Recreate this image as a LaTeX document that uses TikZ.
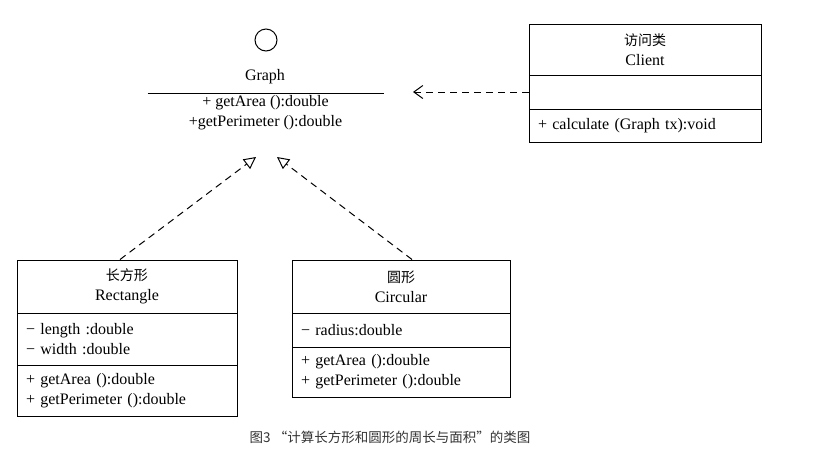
\documentclass[tikz,border=0pt]{standalone}
\usepackage{fontspec}
\setmainfont{Liberation Serif}
\newfontfamily\cjk{Noto Sans CJK SC}
\usetikzlibrary{arrows.meta}
\begin{document}
\begin{tikzpicture}[x=1pt, y=-1pt, line width=1pt, box/.style={rectangle, draw=black, line width=1pt, text width=#1, inner xsep=9pt, inner ysep=0pt, align=left, node font=\fontsize{16}{20}\selectfont}, box/.default=200pt, title/.style={box=#1, align=center}, title/.default=200pt, dep/.style={dashed, dash pattern=on 7pt off 5pt, -{Straight Barb[length=9pt, width=13pt]}}, real/.style={dashed, dash pattern=on 7pt off 5pt, -{Triangle[open, length=12pt, width=12pt]}}]

\useasboundingbox (0,0) rectangle (838,456);

% interface
\node [circle, draw, minimum size=22pt, inner sep=0pt] (GC) at (266,40){};
\node [node font=\fontsize{16}{20}\selectfont] (GN) at (265,77){Graph};
\node [node font=\fontsize{16}{20}\selectfont, minimum width=235pt, inner sep=2pt, align=center] (GM) at (265.5,113){+ getArea ():double\\+getPerimeter ():double};
\draw (GM.north west) -- (GM.north east);

% client
\node [title=214pt, minimum height=51pt] (CN) at (645,49.5){{\cjk\fontsize{14}{20}\selectfont 访问类}\\Client};
\node [box=214pt, minimum height=34pt] (CA) at (645,92){};
\node [box=214pt, minimum height=33pt] (CM) at (645,125.5){+ calculate (Graph tx):void};

% rectangle
\node [title=202pt, minimum height=53pt] (RN) at (127,286.5){{\cjk\fontsize{14}{20}\selectfont 长方形}\\Rectangle};
\node [box=202pt, minimum height=52pt] (RA) at (127,339){− length :double\\− width :double};
\node [box=202pt, minimum height=51pt] (RM) at (127,390.5){+ getArea ():double\\+ getPerimeter ():double};

% circular
\node [title=200pt, minimum height=53pt] (KN) at (401,286.5){{\cjk\fontsize{14}{20}\selectfont 圆形}\\Circular};
\node [box=200pt, minimum height=34pt] (KA) at (401,330){− radius:double};
\node [box=200pt, minimum height=50pt] (KM) at (401,372){+ getArea ():double\\+ getPerimeter ():double};

\coordinate (USE) at (413,92);
\coordinate (RL) at (256,157);
\coordinate (KL) at (277,157);

\draw [dep] (CA.west) -- (USE);
\draw [real] ([xshift=-7pt]RN.north) -- (RL);
\draw [real] ([xshift=11pt]KN.north) -- (KL);

\node [node font=\fontsize{13.5}{15}\selectfont\cjk, text=black!80] (CAP) at (390,437){图3 “计算长方形和圆形的周长与面积”的类图};

\end{tikzpicture}
\end{document}
